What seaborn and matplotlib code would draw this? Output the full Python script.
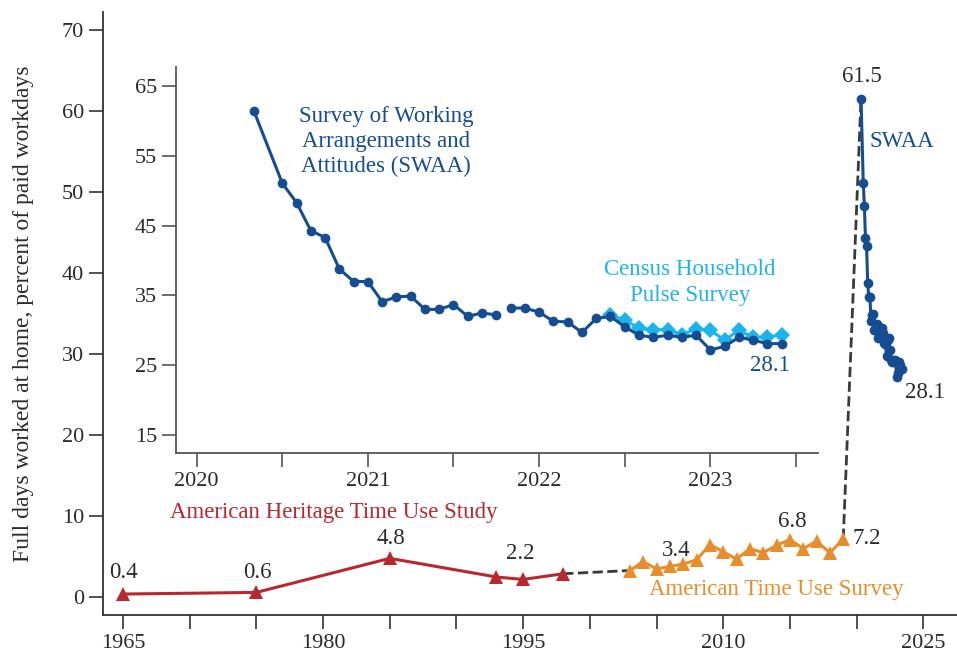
import numpy as np
import pandas as pd
import matplotlib.pyplot as plt
import seaborn as sns

# American Heritage Time Use Study (outer panel)
ahtus_years = [1965, 1975, 1985, 1993, 1995, 1998]
ahtus_values = [0.4, 0.6, 4.8, 2.5, 2.2, 2.9]

# American Time Use Survey
atus_years = list(range(2003, 2020))
atus_values = [3.3, 4.4, 3.5, 3.8, 4.1, 4.6, 6.5, 5.6, 4.7, 6.0, 5.5, 6.4, 7.1, 6.0, 6.9, 5.5, 7.2]

# SWAA monthly, line is broken before swaa_break
swaa_months = ["2020-05", "2020-07", "2020-08", "2020-09", "2020-10", "2020-11", "2020-12",
               "2021-01", "2021-02", "2021-03", "2021-04", "2021-05", "2021-06", "2021-07",
               "2021-08", "2021-09", "2021-10", "2021-11", "2021-12",
               "2022-01", "2022-02", "2022-03", "2022-04", "2022-05", "2022-06", "2022-07",
               "2022-08", "2022-09", "2022-10", "2022-11", "2022-12",
               "2023-01", "2023-02", "2023-03", "2023-04", "2023-05", "2023-06"]
swaa_values = [61.5, 51.1, 48.3, 44.3, 43.3, 38.8, 37.0,
               37.0, 34.1, 34.8, 34.9, 33.0, 33.0, 33.7,
               32.0, 32.5, 32.2, 33.2, 33.2,
               32.6, 31.3, 31.2, 29.7, 31.7, 32.0, 30.5,
               29.3, 29.0, 29.3, 29.0, 29.3,
               27.2, 27.7, 29.0, 28.6, 28.1, 28.1]
swaa_break = "2021-11"

# Census Household Pulse Survey
census_months = ["2022-06", "2022-07", "2022-08", "2022-09", "2022-10", "2022-11", "2022-12",
                 "2023-01", "2023-02", "2023-03", "2023-04", "2023-05", "2023-06"]
census_values = [32.2, 31.5, 30.3, 30.1, 30.1, 29.4, 30.2, 30.0, 28.6, 30.0, 29.0, 29.0, 29.4]

BLUE = "#144d92"
LIGHT = "#1cb4ec"
RED = "#b7282f"
ORANGE = "#e88d2a"
DASH = "#3a3a3a"
TXT = "#2b2b2b"


def to_year(m):
    y, mo = m.split("-")
    return int(y) + (int(mo) - 1) / 12


swaa = pd.DataFrame({"t": [to_year(m) for m in swaa_months], "value": swaa_values,
                     "seg": [int(m >= swaa_break) for m in swaa_months]})
census = pd.DataFrame({"t": [to_year(m) for m in census_months], "value": census_values})

sns.set_style("ticks")
plt.rcParams["font.family"] = ["Liberation Serif", "DejaVu Serif"]

fig = plt.figure(figsize=(9.57, 6.53), dpi=100)
ax = fig.add_axes([0.1076, 0.058, 0.892, 0.924])
ins = fig.add_axes([0.184, 0.306, 0.671, 0.591])
ins.patch.set_alpha(0)

# ---- outer panel ----
sns.lineplot(x=[ahtus_years[-1], atus_years[0]], y=[ahtus_values[-1], atus_values[0]],
             color=DASH, lw=2.0, linestyle="--", dashes=(3.5, 2.2), ax=ax, zorder=1)
sns.lineplot(x=[atus_years[-1], swaa["t"].iloc[0]], y=[atus_values[-1], swaa["value"].iloc[0]],
             color=DASH, lw=2.0, linestyle="--", dashes=(3.5, 2.2), ax=ax, zorder=1)
sns.lineplot(x=ahtus_years, y=ahtus_values, color=RED, lw=2.2, marker="^", ms=10,
             mec=RED, mew=0, ax=ax, zorder=3)
sns.lineplot(x=atus_years, y=atus_values, color=ORANGE, lw=2.2, marker="^", ms=10,
             mec=ORANGE, mew=0, ax=ax, zorder=3)
sns.lineplot(data=swaa, x="t", y="value", units="seg", estimator=None, color=BLUE, lw=2.2,
             marker="o", ms=7, mec=BLUE, mew=0, ax=ax, zorder=3)

ax.set_xlim(1963.5, 2027.5)
ax.set_ylim(-2.2, 72.2)
ax.set_xticks(range(1965, 2026, 5))
ax.set_xticklabels([str(y) if (y - 1965) % 15 == 0 else "" for y in range(1965, 2026, 5)])
ax.set_yticks(range(0, 71, 10))
ax.set_xlabel("")
ax.set_ylabel("Full days worked at home, percent of paid workdays", fontsize=17,
              color=TXT, labelpad=20)
sns.despine(ax=ax)
for s in ["left", "bottom"]:
    ax.spines[s].set_color("#333333")
    ax.spines[s].set_linewidth(1.3)
ax.tick_params(direction="out", length=10, width=1.2, colors="#333333",
               labelsize=16, labelcolor=TXT)

fs = 16.5
ax.text(1965, 3.1, "0.4", ha="center", va="center", fontsize=fs, color=TXT)
ax.text(1975.1, 3.1, "0.6", ha="center", va="center", fontsize=fs, color=TXT)
ax.text(1985.1, 7.3, "4.8", ha="center", va="center", fontsize=fs, color=TXT)
ax.text(1994.8, 5.4, "2.2", ha="center", va="center", fontsize=fs, color=TXT)
ax.text(2006.5, 5.8, "3.4", ha="center", va="center", fontsize=fs, color=TXT)
ax.text(2015.2, 9.3, "6.8", ha="center", va="center", fontsize=fs, color=TXT)
ax.text(2019.7, 7.3, "7.2", ha="left", va="center", fontsize=fs, color=TXT)
ax.text(2020.4, 64.2, "61.5", ha="center", va="center", fontsize=fs, color=TXT)
ax.text(2023.65, 25.3, "28.1", ha="left", va="center", fontsize=fs, color=TXT)
ax.text(2021.0, 56.2, "SWAA", ha="left", va="center", fontsize=fs, color=BLUE)
ax.text(1968.5, 10.4, "American Heritage Time Use Study", ha="left", va="center",
        fontsize=fs, color=RED)
ax.text(2004.4, 0.9, "American Time Use Survey", ha="left", va="center",
        fontsize=fs, color=ORANGE)

# ---- inset ----
sns.lineplot(data=swaa, x="t", y="value", units="seg", estimator=None, color=BLUE, lw=2.2,
             marker="o", ms=7, mec=BLUE, mew=0, ax=ins, zorder=3)
sns.lineplot(data=census, x="t", y="value", color=LIGHT, lw=2.2, marker="D", ms=8,
             mec=LIGHT, mew=0, ax=ins, zorder=2)

ins.set_xlim(2019.88, 2023.63)
ins.set_ylim(12.4, 67.7)
ins.set_xticks(np.arange(2020, 2024, 0.5))
ins.set_xticklabels([str(int(t)) if t % 1 == 0 else "" for t in np.arange(2020, 2024, 0.5)])
ins.set_yticks(range(15, 66, 10))
ins.set_xlabel("")
ins.set_ylabel("")
sns.despine(ax=ins)
for s in ["left", "bottom"]:
    ins.spines[s].set_color("#555555")
    ins.spines[s].set_linewidth(1.3)
ins.tick_params(direction="out", length=10, width=1.2, colors="#555555",
                labelsize=16, labelcolor=TXT)

ins.text(2021.105, 57.0, "Survey of Working\nArrangements and\nAttitudes (SWAA)",
         ha="center", va="center", fontsize=fs, color=BLUE, linespacing=1.25)
ins.text(2022.88, 36.9, "Census Household\nPulse Survey", ha="center", va="center",
         fontsize=fs, color=LIGHT, linespacing=1.3)
ins.text(2023.35, 24.9, "28.1", ha="center", va="center", fontsize=fs, color=BLUE)

fig.savefig("out.png", dpi=100)
